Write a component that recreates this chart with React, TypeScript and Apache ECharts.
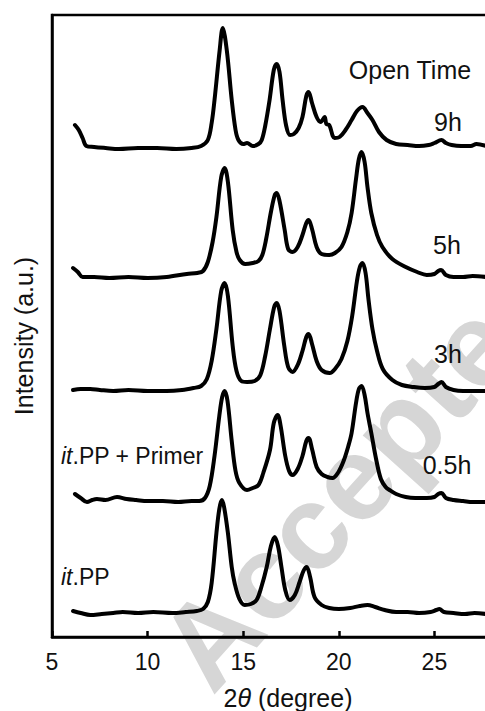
import React, { useEffect, useRef } from "react";
import * as echarts from "echarts";

// 2θ axis ticks that carry a label (30 lies outside the visible frame)
const xTicks = [5, 10, 15, 20, 25];

// Vertical offsets of each pattern (a.u.), bottom to top
const offsets = [25, 136, 246, 360, 489];

// Curve labels (right side) and sample labels (left side)
const timeLabels = ["9h", "5h", "3h", "0.5h"];
const sampleLabels = ["{i|it}.PP + Primer", "{i|it}.PP"];

// [2θ, intensity above its own baseline]
const itPP: number[][] = [
  [6.1, 1], [6.5, -1], [7.0, -3], [7.6, -2], [8.2, -1], [8.7, 0], [9.5, -1], [10.3, 0], [11.3, -1], [12.0, 0],
  [12.57, 1], [12.9, 3], [13.15, 10], [13.35, 29], [13.6, 79], [13.75, 103], [13.88, 112], [14.0, 105], [14.2, 79],
  [14.4, 45], [14.55, 29], [14.8, 13], [15.08, 7], [15.4, 8], [15.7, 12], [15.95, 25], [16.23, 45], [16.45, 66],
  [16.65, 75], [16.82, 66], [17.0, 45], [17.2, 22], [17.43, 12], [17.7, 17], [17.95, 30], [18.15, 41], [18.32, 45],
  [18.5, 35], [18.73, 15], [19.1, 7], [19.5, 4], [20.0, 3], [20.6, 4], [21.1, 6], [21.5, 7], [21.9, 5], [22.4, 2],
  [23.0, 0], [23.6, 0], [24.2, -1], [24.8, 0], [25.1, 2], [25.26, 3], [25.5, 0], [26.0, -1], [26.6, -2], [27.1, -1],
  [27.7, -2],
];

const primer05h: number[][] = [
  [6.2, 7], [6.5, 3], [6.83, -1], [7.1, 1], [7.35, 2], [7.8, 1], [8.4, 4], [8.9, 2], [9.4, 1], [10.0, 0], [10.8, 0],
  [11.6, -1], [12.3, 0], [12.7, 0], [13.0, 3], [13.25, 15], [13.5, 45], [13.75, 85], [13.9, 104], [14.03, 110],
  [14.18, 100], [14.4, 60], [14.6, 30], [14.8, 18], [15.2, 11], [15.5, 13], [15.8, 16], [16.05, 28], [16.4, 51],
  [16.6, 78], [16.8, 86], [16.95, 76], [17.2, 45], [17.4, 30], [17.58, 26], [17.85, 32], [18.1, 45], [18.3, 60],
  [18.42, 63], [18.6, 52], [18.84, 34], [19.1, 27], [19.4, 24], [19.67, 23], [19.95, 28], [20.25, 40], [20.5, 55],
  [20.67, 68], [20.9, 98], [21.05, 112], [21.19, 115], [21.35, 106], [21.5, 88], [21.7, 68], [21.95, 42],
  [22.2, 22], [22.45, 14], [22.65, 11], [23.0, 7], [23.5, 4], [24.0, 3], [24.6, 3], [25.0, 4], [25.2, 7],
  [25.37, 8], [25.6, 3], [26.0, 1], [26.5, 0], [27.0, -1], [27.7, -1],
];

const open3h: number[][] = [
  [6.1, 1], [6.5, 2], [7.0, 2], [7.5, 1], [8.2, 0], [9.0, 1], [10.0, 0], [11.0, 0], [11.8, 1], [12.4, 3], [12.8, 5],
  [13.1, 12], [13.35, 30], [13.6, 62], [13.85, 100], [14.03, 108], [14.2, 95], [14.45, 45], [14.65, 20], [14.9, 10],
  [15.2, 9], [15.6, 10], [15.9, 16], [16.15, 35], [16.4, 62], [16.62, 84], [16.75, 88], [16.9, 80], [17.15, 45],
  [17.35, 24], [17.58, 19], [17.85, 26], [18.1, 40], [18.3, 54], [18.42, 57], [18.6, 47], [18.84, 30], [19.1, 21],
  [19.52, 18], [19.8, 22], [20.14, 32], [20.45, 50], [20.7, 75], [20.95, 110], [21.1, 124], [21.24, 128],
  [21.4, 118], [21.55, 92], [21.76, 62], [22.0, 40], [22.3, 22], [22.8, 11], [23.3, 6], [23.9, 4], [24.5, 3],
  [25.0, 4], [25.2, 7], [25.37, 9], [25.6, 4], [26.0, 1], [26.5, 0], [27.0, 0], [27.7, 0],
];

const open5h: number[][] = [
  [6.1, 9], [6.35, 5], [6.6, 0], [7.2, 0], [8.0, -1], [9.0, 0], [10.0, -1], [11.0, 0], [12.05, 3], [12.6, 4],
  [12.9, 6], [13.15, 15], [13.4, 35], [13.6, 60], [13.85, 100], [14.03, 109], [14.2, 95], [14.45, 47], [14.65, 25],
  [14.82, 17], [15.1, 13], [15.5, 14], [15.8, 16], [16.0, 22], [16.2, 38], [16.45, 65], [16.65, 82], [16.75, 84],
  [16.9, 76], [17.17, 47], [17.35, 28], [17.58, 25], [17.85, 30], [18.1, 42], [18.3, 54], [18.42, 57], [18.6, 48],
  [18.84, 30], [19.1, 23], [19.5, 22], [19.8, 24], [20.14, 30], [20.45, 45], [20.67, 64], [20.9, 98], [21.05, 118],
  [21.19, 125], [21.35, 115], [21.5, 90], [21.7, 64], [22.0, 42], [22.28, 30], [22.8, 18], [23.5, 10], [24.1, 5],
  [24.6, 2], [25.0, 3], [25.2, 6], [25.35, 7], [25.6, 2], [26.0, 0], [26.5, 0], [27.0, 1], [27.7, 0],
];

const open9h: number[][] = [
  [6.2, 23], [6.4, 18], [6.6, 10], [6.8, 2], [7.2, 1], [7.8, 0], [8.5, -1], [9.5, 0], [10.5, 0], [11.5, -1],
  [12.3, 0], [12.8, 2], [13.15, 8], [13.35, 25], [13.5, 48], [13.77, 98], [13.93, 120], [14.14, 98], [14.4, 48],
  [14.6, 18], [14.75, 8], [15.0, 4], [15.2, 5], [15.5, 2], [15.8, 4], [15.97, 8], [16.15, 22], [16.38, 48],
  [16.6, 78], [16.75, 84], [16.9, 76], [17.06, 48], [17.25, 22], [17.45, 13], [17.65, 14], [17.9, 20], [18.1, 31],
  [18.3, 52], [18.42, 56], [18.6, 45], [18.84, 31], [19.05, 26], [19.26, 31], [19.35, 24], [19.5, 23], [19.78, 10],
  [20.04, 11], [20.35, 18], [20.67, 28], [20.95, 37], [21.24, 41], [21.5, 35], [21.76, 28], [22.1, 16], [22.5, 8],
  [23.0, 4], [23.6, 3], [24.2, 2], [24.7, 3], [25.0, 5], [25.37, 8], [25.6, 5], [25.9, 3], [26.4, 2], [26.9, 2],
  [27.2, 4], [27.7, 2],
];

const curves = [itPP, primer05h, open3h, open5h, open9h];
const curveNames = ["it.PP", "it.PP + Primer 0.5h", "3h", "5h", "9h"];

const FONT = "'Liberation Sans', Arial, Helvetica, sans-serif";

export default function App() {
  const ref = useRef<HTMLDivElement>(null);

  useEffect(() => {
    if (!ref.current) return;
    const chart = echarts.init(ref.current, null, { renderer: "svg" });

    const series = curves.map((c, i) => ({
      type: "line" as const,
      name: curveNames[i],
      data: c.map(([x, y]) => [x, y + offsets[i]]),
      showSymbol: false,
      smooth: 0.35,
      z: 5,
      lineStyle: { color: "#000", width: 4, cap: "round", join: "round" },
    }));

    const textStyle = (size: number) => ({
      fontFamily: FONT,
      fontSize: size,
      fill: "#111",
    });

    const timeYs = [122, 245, 354, 465];
    const timeXs = [448, 447, 448, 447];

    chart.setOption({
      animation: false,
      backgroundColor: "#fff",
      grid: {
        left: 52,
        right: -45,
        top: 15,
        bottom: 74,
        show: true,
        borderColor: "#000",
        borderWidth: 2.5,
        outerBoundsMode: "none",
        containLabel: false,
      },
      xAxis: {
        type: "value",
        min: 5,
        max: 30,
        interval: 5,
        axisLine: { show: true, lineStyle: { color: "#000", width: 2.5 } },
        axisTick: { show: true, inside: true, length: 6, lineStyle: { color: "#000", width: 2.5 } },
        axisLabel: {
          show: true,
          color: "#111",
          fontFamily: FONT,
          fontSize: 23,
          margin: 13,
          formatter: (v: number) => (xTicks.includes(v) ? String(v) : ""),
        },
        splitLine: { show: false },
      },
      yAxis: {
        type: "value",
        min: 0,
        max: 622,
        axisLine: { show: true, lineStyle: { color: "#000", width: 2.5 } },
        axisTick: { show: false },
        axisLabel: { show: false },
        splitLine: { show: false },
      },
      graphic: [
        {
          type: "text",
          z: -1,
          silent: true,
          x: 362,
          y: 468,
          rotation: (48 * Math.PI) / 180,
          style: {
            text: "Accepted",
            fontFamily: FONT,
            fontWeight: "bold",
            fontSize: 120,
            fill: "#d6d6d6",
            align: "center",
            verticalAlign: "middle",
          },
        },
        {
          type: "text",
          z: 10,
          x: 24,
          y: 336,
          rotation: Math.PI / 2,
          style: { ...textStyle(25), text: "Intensity (a.u.)", align: "center", verticalAlign: "middle" },
        },
        {
          type: "text",
          z: 10,
          x: 288,
          y: 698,
          style: {
            ...textStyle(25),
            text: "2{t|θ} (degree)",
            align: "center",
            verticalAlign: "middle",
            rich: { t: { fontStyle: "italic", fontFamily: FONT, fontSize: 25, fill: "#111" } },
          },
        },
        {
          type: "text",
          z: 10,
          x: 410,
          y: 70,
          style: { ...textStyle(25), text: "Open Time", align: "center", verticalAlign: "middle" },
        },
        ...timeLabels.map((t, i) => ({
          type: "text",
          z: 10,
          x: timeXs[i],
          y: timeYs[i],
          style: { ...textStyle(25), text: t, align: "center", verticalAlign: "middle" },
        })),
        ...sampleLabels.map((t, i) => ({
          type: "text",
          z: 10,
          x: 61,
          y: [456, 577][i],
          style: {
            ...textStyle(23),
            text: t,
            align: "left",
            verticalAlign: "middle",
            rich: { i: { fontStyle: "italic", fontFamily: FONT, fontSize: 23, fill: "#111" } },
          },
        })),
      ],
      series,
    });

    return () => chart.dispose();
  }, []);

  return (
    <div
      ref={ref}
      style={{ position: "fixed", left: 0, top: 0, width: 485, height: 711, background: "#fff" }}
    />
  );
}
